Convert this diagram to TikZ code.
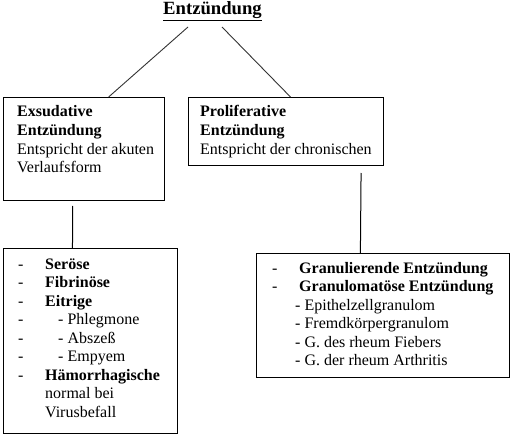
\documentclass[tikz,border=0pt]{standalone}
\usepackage{fontspec}
\setmainfont{Liberation Serif}
\usetikzlibrary{calc}
\begin{document}
\begin{tikzpicture}[x=1pt,y=-1pt,
  box/.style={draw=black,line width=1pt,rectangle,inner sep=0pt,anchor=north west},
  txt/.style={anchor=base west,inner sep=0pt,font=\fontsize{16}{18.5}\selectfont},
  btxt/.style={txt,font=\fontsize{16}{18.5}\selectfont\bfseries},
  conn/.style={line width=0.9pt,draw=black!80}]
\useasboundingbox[fill=white] (0,0) rectangle (512,436);
% title
\node[anchor=base,inner sep=0pt,font=\fontsize{18.67}{20}\selectfont\bfseries] (title) at (212.5,15) {\underline{Entzündung}};
% boxes
\node[box,minimum width=161pt,minimum height=103pt] (exs) at (3,97) {};
\node[box,minimum width=195pt,minimum height=68pt] (pro) at (188,97) {};
\node[box,minimum width=174pt,minimum height=185pt] (exl) at (3,248) {};
\node[box,minimum width=253pt,minimum height=124pt] (prl) at (256,253) {};
% connectors
\coordinate (ta) at ($(title.base)+(-24.5,12)$);
\coordinate (tb) at ($(title.base)+(9.5,12)$);
\draw[conn] (ta) -- ($(exs.north west)!0.652!(exs.north east)$);
\draw[conn] (tb) -- ($(pro.north west)!0.523!(pro.north east)$);
\draw[line width=1pt] ($(exs.south west)!0.43!(exs.south east)+(0,5)$) -- ($(exl.north west)!0.397!(exl.north east)$);
\draw[line width=1pt] ($(pro.south west)!0.883!(pro.south east)+(0,7)$) -- ($(prl.north west)!0.411!(prl.north east)$);
% exsudative box text
\node[btxt] (e1) at (17,117) {Exsudative};
\node[btxt] (e2) at (17,135.5) {Entzündung};
\node[txt] (e3) at (17,154) {Entspricht der akuten};
\node[txt] (e4) at (17,172.5) {Verlaufsform};
% proliferative box text
\node[btxt] (p1) at (200,117) {Proliferative};
\node[btxt] (p2) at (200,135.5) {Entzündung};
\node[txt] (p3) at (200,154) {Entspricht der chronischen};
% bottom left list
\foreach \i/\yy in {1/269,2/287.5,3/306,4/324.5,5/343,6/361.5,7/380}
  \node[txt] (d\i) at (18,\yy) {-};
\node[btxt] (l1) at (45,269) {Seröse};
\node[btxt] (l2) at (45,287.5) {Fibrinöse};
\node[btxt] (l3) at (45,306) {Eitrige};
\node[txt] (l4) at (58,324.5) {- Phlegmone};
\node[txt] (l5) at (58,343) {- Abszeß};
\node[txt] (l6) at (58,361.5) {- Empyem};
\node[btxt] (l7) at (45,380) {Hämorrhagische};
\node[txt] (l8) at (45,398.5) {normal bei};
\node[txt] (l9) at (45,417) {Virusbefall};
% bottom right list
\node[txt] (rd1) at (272,273) {-};
\node[txt] (rd2) at (272,291.5) {-};
\node[btxt] (r1) at (299,273) {Granulierende Entzündung};
\node[btxt] (r2) at (299,291.5) {Granulomatöse Entzündung};
\node[txt] (r3) at (295,310) {- Epithelzellgranulom};
\node[txt] (r4) at (295,328.5) {- Fremdkörpergranulom};
\node[txt] (r5) at (295,347) {- G. des rheum Fiebers};
\node[txt] (r6) at (295,365.5) {- G. der rheum Arthritis};
\end{tikzpicture}
\end{document}
